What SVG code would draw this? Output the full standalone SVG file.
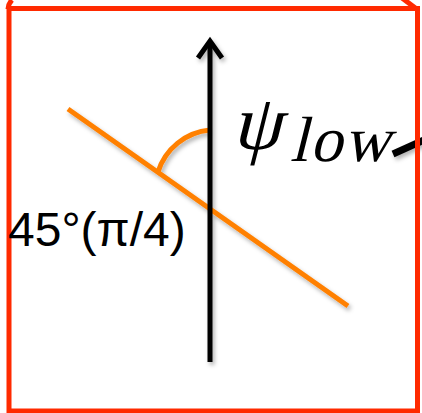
<svg xmlns="http://www.w3.org/2000/svg" width="422" height="413" viewBox="0 0 422 413">
<style>
.red{fill:none;stroke:#ff2a00;stroke-width:5}
.orange{fill:none;stroke:#ff8000;stroke-width:5}
.blk{fill:none;stroke:#000;stroke-width:5}
.lbl{font-family:"Liberation Sans",Arial,sans-serif;font-size:48px;fill:#000}
.math{font-family:"Liberation Serif","Times New Roman",serif;fill:#000}
</style>
<defs>
<filter id="sh" x="-20%" y="-20%" width="140%" height="140%">
<feDropShadow dx="2" dy="3" stdDeviation="2" flood-color="#000" flood-opacity="0.3"/>
</filter>
</defs>
<rect width="422" height="413" fill="#fff"/>
<g id="connectors" filter="url(#sh)">
<line class="orange" x1="68" y1="109" x2="348" y2="306"/>
<path class="orange" d="M158,172 A60,60 0 0 1 210,130"/>
<line class="blk" x1="210" y1="362" x2="210" y2="44"/>
<polyline class="blk" points="198,58 210,41 222,58" stroke-linejoin="miter"/>
<line x1="393" y1="154" x2="424" y2="140" stroke="#000" stroke-width="7"/>
</g>
<g id="frame">
<path class="red" d="M12,0 Q8,4 8,9"/>
<path class="red" d="M402,-2 L418,10"/>
<rect class="red" x="9" y="8.5" width="408.5" height="402.5"/>
</g>
<g id="angle-label">
<text class="lbl" x="8" y="246">45°(π/4)</text>
</g>
<g id="psi-label">
<text class="math" transform="translate(232,149) skewX(-14)" font-size="78">ψ</text>
<text class="math" transform="translate(290,161) skewX(-14)" font-size="64" letter-spacing="2">low</text>
</g>
</svg>
